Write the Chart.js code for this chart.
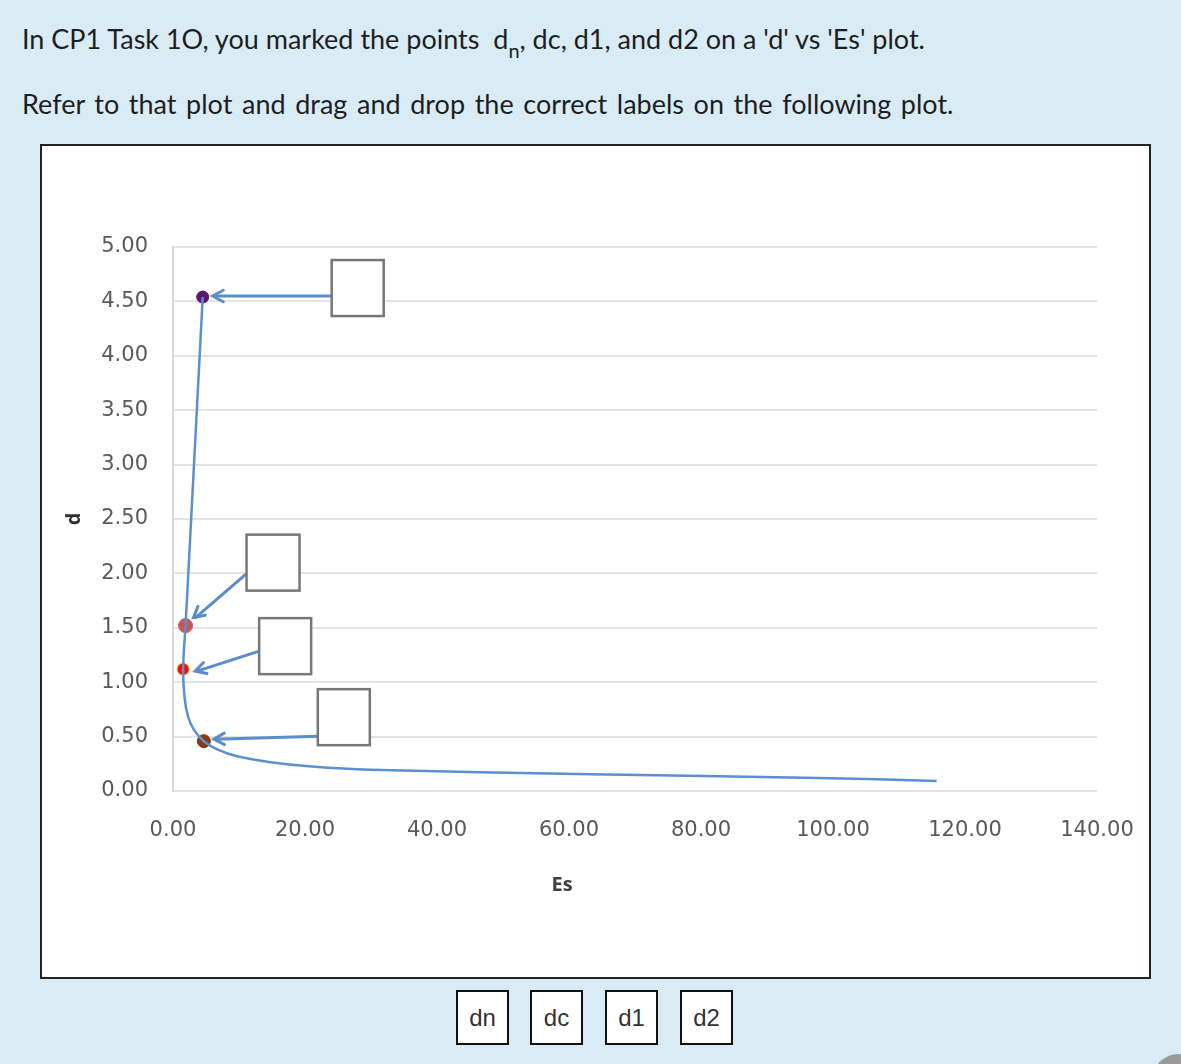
<!DOCTYPE html>
<html>
<head>
<meta charset="utf-8">
<script src="https://cdn.jsdelivr.net/npm/chart.js@4/dist/chart.umd.min.js"></script>
<style>
  html, body { margin: 0; padding: 0; }
  body { width: 1181px; height: 1064px; background: #d9ecf6; position: relative; overflow: hidden; font-family: Lato, "Noto Sans", sans-serif; color: #1e1e1e; }
  .line { position: absolute; left: 22px; font-size: 27px; white-space: nowrap; line-height: 30px; }
  .line sub { font-size: 20px; vertical-align: -9px; line-height: 0; }
  #box { position: absolute; left: 40px; top: 144px; width: 1107px; height: 831px; background: #fff; border: 2px solid #222; }
  #box canvas { display: block; }
  .lbl { position: absolute; top: 990px; width: 49px; height: 51px; border: 2px solid #111; background: #fff; font-family: "Liberation Sans", Arial, sans-serif; font-size: 24px; color: #333; text-align: center; line-height: 51px; }
  #corner { position: absolute; left: 1153px; top: 1054px; width: 50px; height: 50px; border-radius: 50%; background: #9a9a9a; }
</style>
</head>
<body>
<div class="line" style="top:24px">In CP1 Task 1O, you marked the points&nbsp; d<sub>n</sub>, dc, d1, and d2 on a 'd' vs 'Es' plot.</div>
<div class="line" style="top:89px; word-spacing:2.7px">Refer to that plot and drag and drop the correct labels on the following plot.</div>
<div id="box"><canvas id="c" width="1107" height="831"></canvas></div>
<div class="lbl" style="left:456px">dn</div>
<div class="lbl" style="left:530px">dc</div>
<div class="lbl" style="left:605px">d1</div>
<div class="lbl" style="left:680px">d2</div>
<div id="corner"></div>
<script>
// ---- data ----
const curveEs = [4.5, 4.04, 3.18, 2.32, 1.9, 1.54, 1.75, 2.3, 3.2, 4.67, 6.8, 9.7, 14.8, 21.0, 29.9, 63.2, 97.8, 115.7];
const curveD  = [4.54, 4.0, 3.0, 2.0, 1.52, 1.12, 0.86, 0.68, 0.56, 0.458, 0.38, 0.32, 0.265, 0.225, 0.195, 0.154, 0.12, 0.092];
const markerEs = [4.5, 1.9, 1.54, 4.67];
const markerD  = [4.54, 1.52, 1.12, 0.458];
const markerColors = ['#5b1670', '#c9575a', '#ff0a0a', '#8a3a12'];
const xTicks = [0, 20, 40, 60, 80, 100, 120, 140];
const yTicks = [0, 0.5, 1, 1.5, 2, 2.5, 3, 3.5, 4, 4.5, 5];

const curve = curveEs.map((x, i) => ({x: x, y: curveD[i]}));
const markers = markerEs.map((x, i) => ({x: x, y: markerD[i]}));

// arrows + empty drop boxes, positioned relative to each marker
const callouts = [
  {tip: [10, -1], tail: [129, -1], box: [129, -37, 52, 56]},
  {tip: [8, -8], tail: [61, -52], box: [61, -91, 53, 56]},
  {tip: [12, 2], tail: [76, -18], box: [76, -51, 52, 56]},
  {tip: [10, -2], tail: [114, -5], box: [114, -52, 52, 56]}
];

const annot = {
  id: 'annot',
  afterDatasetsDraw(chart) {
    const ctx = chart.ctx;
    const meta = chart.getDatasetMeta(1);
    ctx.save();
    meta.data.forEach((pt, i) => {
      const c = callouts[i];
      const mx = pt.x, my = pt.y;
      const tx = mx + c.tip[0], ty = my + c.tip[1];
      const sx = mx + c.tail[0], sy = my + c.tail[1];
      ctx.strokeStyle = '#5a8dcb';
      ctx.lineWidth = 3;
      ctx.lineCap = 'round';
      ctx.beginPath();
      ctx.moveTo(sx, sy);
      ctx.lineTo(tx + 2, ty);
      ctx.stroke();
      const ang = Math.atan2(sy - ty, sx - tx);
      const L = 12, a = 0.5;
      ctx.beginPath();
      ctx.moveTo(tx + L * Math.cos(ang + a), ty + L * Math.sin(ang + a));
      ctx.lineTo(tx, ty);
      ctx.lineTo(tx + L * Math.cos(ang - a), ty + L * Math.sin(ang - a));
      ctx.lineJoin = 'miter';
      ctx.stroke();
      ctx.fillStyle = '#fff';
      ctx.strokeStyle = '#777';
      ctx.lineWidth = 2.5;
      ctx.fillRect(mx + c.box[0], my + c.box[1], c.box[2], c.box[3]);
      ctx.strokeRect(mx + c.box[0], my + c.box[1], c.box[2], c.box[3]);
    });
    // x axis title
    const ca = chart.chartArea;
    ctx.fillStyle = '#404040';
    ctx.font = 'bold 20px "Open Sans", "DejaVu Sans", sans-serif';
    ctx.textAlign = 'center';
    ctx.textBaseline = 'middle';
    ctx.fillText('Es', ca.left + 389, ca.bottom + 94);
    ctx.restore();
  }
};

new Chart(document.getElementById('c'), {
  type: 'scatter',
  data: {
    datasets: [
      {
        data: curve,
        showLine: true,
        borderColor: '#5b8fd0',
        borderWidth: 2.5,
        pointRadius: 0,
        tension: 0.4,
        fill: false
      },
      {
        data: markers,
        pointRadius: [6, 7, 6, 6.5],
        pointBackgroundColor: markerColors,
        pointBorderColor: ['#5b1670', '#c9575a', '#d9c23a', '#8a3a12'],
        pointBorderWidth: 1,
        showLine: false
      }
    ]
  },
  options: {
    responsive: false,
    animation: false,
    events: [],
    layout: { padding: { left: 20, top: 101, right: 52, bottom: 0 } },
    plugins: { legend: { display: false }, tooltip: { enabled: false } },
    scales: {
      x: {
        type: 'linear', min: 0, max: 140,
        afterBuildTicks(s) { s.ticks = xTicks.map(v => ({value: v})); },
        afterFit(s) { s.height = 186; s.paddingLeft = 0; s.paddingRight = 0; },
        grid: { display: false, drawTicks: false },
        border: { display: false },
        ticks: { padding: 27, color: '#595959', font: { family: '"DejaVu Sans"', size: 21 }, callback: v => Number(v).toFixed(2), maxRotation: 0 }
      },
      y: {
        type: 'linear', min: 0, max: 5,
        afterBuildTicks(s) { s.ticks = yTicks.map(v => ({value: v})); },
        afterFit(s) { s.width = 111; s.paddingTop = 0; s.paddingBottom = 0; },
        grid: { color: '#e4e4e4', lineWidth: 2, drawTicks: false },
        border: { display: true, color: '#d9d9d9', width: 2 },
        title: { display: true, text: 'd', color: '#303030', font: { family: '"Open Sans", "DejaVu Sans"', size: 20, weight: 'bold' }, padding: 0 },
        ticks: { padding: 25, color: '#595959', font: { family: '"DejaVu Sans"', size: 21 }, callback: v => Number(v).toFixed(2) }
      }
    }
  },
  plugins: [annot]
});
</script>
</body>
</html>
